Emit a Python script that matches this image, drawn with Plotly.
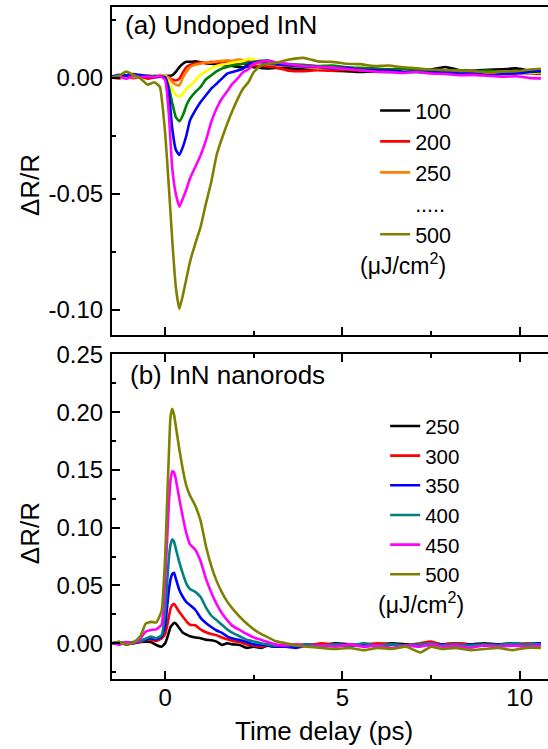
import plotly.graph_objects as go

# ---------------- data: panel (a) undoped InN ----------------
T_A = [-1.5, -1.3, -1.1, -0.9, -0.7, -0.5, -0.3, -0.15,
       0.0, 0.1, 0.2, 0.3, 0.4, 0.5, 0.6, 0.7,
       0.85, 1.0, 1.15, 1.3, 1.45, 1.6, 1.75, 1.9, 2.05, 2.2, 2.35, 2.5,
       2.7, 2.9, 3.1,
       3.5, 3.9, 4.3, 4.7, 5.1, 5.5, 5.9, 6.3, 6.7, 7.1, 7.5, 7.9, 8.3, 8.7, 9.1, 9.5, 9.9, 10.3,
       10.6]

A_100 = [0.0004, 0.0008, 0.0003, 0.0007, 0.0005, 0.0009, 0.0004, 0.0007,
         0.0006, 0.0008, 0.0010, 0.0025, 0.0045, 0.0060, 0.0068, 0.0068,
         0.0070, 0.0066, 0.0062, 0.0060, 0.0058, 0.0055, 0.0052, 0.0050, 0.0046, 0.0044, 0.0048, 0.0045,
         0.0042, 0.0040, 0.0042,
         0.0040, 0.0038, 0.0036, 0.0030, 0.0028, 0.0024, 0.0026, 0.0024, 0.0030, 0.0028, 0.0035, 0.0046, 0.0032, 0.0030, 0.0034, 0.0036, 0.0040, 0.0030,
         0.0028]
A_200 = [0.0000, -0.0003, 0.0002, -0.0002, 0.0003, -0.0004, 0.0000, 0.0004,
         0.0005, 0.0000, -0.0008, -0.0012, -0.0005, 0.0022, 0.0045, 0.0055,
         0.0060, 0.0066, 0.0062, 0.0068, 0.0065, 0.0070, 0.0066, 0.0062, 0.0058, 0.0060, 0.0055, 0.0052,
         0.0050, 0.0048, 0.0045,
         0.0030, 0.0028, 0.0032, 0.0030, 0.0034, 0.0030, 0.0032, 0.0036, 0.0031, 0.0034, 0.0030, 0.0028, 0.0032, 0.0026, 0.0022, 0.0025, 0.0020, 0.0018,
         0.0016]
A_250 = [0.0003, 0.0000, 0.0006, 0.0002, 0.0008, 0.0004, 0.0006, 0.0010,
         0.0008, 0.0000, -0.0018, -0.0030, -0.0033, 0.0000, 0.0025, 0.0045,
         0.0055, 0.0060, 0.0066, 0.0065, 0.0070, 0.0072, 0.0075, 0.0072, 0.0078, 0.0076, 0.0070, 0.0068,
         0.0062, 0.0060, 0.0055,
         0.0050, 0.0046, 0.0040, 0.0042, 0.0038, 0.0035, 0.0036, 0.0032, 0.0030, 0.0034, 0.0028, 0.0030, 0.0026, 0.0028, 0.0024, 0.0027, 0.0022, 0.0025,
         0.0023]
A_300 = [0.0000, 0.0004, -0.0003, 0.0006, 0.0002, 0.0007, 0.0003, 0.0006,
         0.0005, -0.0020, -0.0050, -0.0075, -0.0082, -0.0069, -0.0047, -0.0036,
         -0.0012, 0.0013, 0.0027, 0.0041, 0.0050, 0.0055, 0.0060, 0.0064, 0.0068, 0.0072, 0.0082, 0.0078,
         0.0070, 0.0065, 0.0060,
         0.0055, 0.0050, 0.0046, 0.0044, 0.0040, 0.0038, 0.0036, 0.0038, 0.0034, 0.0030, 0.0032, 0.0028, 0.0030, 0.0025, 0.0027, 0.0022, 0.0025, 0.0020,
         0.0022]
A_350 = [0.0005, 0.0000, 0.0010, 0.0006, 0.0012, 0.0004, 0.0008, 0.0005,
         0.0003, -0.0040, -0.0110, -0.0170, -0.0188, -0.0162, -0.0119, -0.0090,
         -0.0062, -0.0040, -0.0007, 0.0010, 0.0027, 0.0039, 0.0046, 0.0053, 0.0055, 0.0060, 0.0065, 0.0068,
         0.0072, 0.0075, 0.0065,
         0.0058, 0.0055, 0.0050, 0.0052, 0.0045, 0.0042, 0.0040, 0.0036, 0.0038, 0.0032, 0.0030, 0.0028, 0.0032, 0.0027, 0.0030, 0.0025, 0.0022, 0.0026,
         0.0024]
A_400 = [0.0005, 0.0012, 0.0008, 0.0015, 0.0010, 0.0005, 0.0002, 0.0006,
         0.0000, -0.0060, -0.0220, -0.0310, -0.0333, -0.0298, -0.0248, -0.0184,
         -0.0141, -0.0105, -0.0076, -0.0047, -0.0026, -0.0004, 0.0017, 0.0024, 0.0031, 0.0039, 0.0060, 0.0065,
         0.0068, 0.0060, 0.0058,
         0.0052, 0.0048, 0.0046, 0.0040, 0.0042, 0.0034, 0.0032, 0.0030, 0.0026, 0.0024, 0.0022, 0.0025, 0.0018, 0.0020, 0.0010, 0.0016, 0.0018, 0.0024,
         0.0030]
A_450 = [0.0000, 0.0005, -0.0005, 0.0008, 0.0003, 0.0005, 0.0002, 0.0008,
         -0.0010, -0.0150, -0.0390, -0.0500, -0.0555, -0.0520, -0.0480, -0.0434,
         -0.0384, -0.0334, -0.0270, -0.0191, -0.0133, -0.0090, -0.0059, -0.0026, -0.0002, 0.0024, 0.0036, 0.0060,
         0.0068, 0.0072, 0.0066,
         0.0058, 0.0050, 0.0047, 0.0043, 0.0038, 0.0032, 0.0026, 0.0024, 0.0020, 0.0024, 0.0018, 0.0016, 0.0010, 0.0012, 0.0008, 0.0004, 0.0006, -0.0002,
         -0.0003]
A_500 = [0.0000, 0.0008, 0.0026, 0.0012, -0.0003, -0.0030, -0.0020, -0.0040,
         -0.0240, -0.0460, -0.0700, -0.0900, -0.0995, -0.0936, -0.0864, -0.0793,
         -0.0714, -0.0642, -0.0542, -0.0449, -0.0334, -0.0262, -0.0198, -0.0141, -0.0090, -0.0047, -0.0019, 0.0024,
         0.0053, 0.0060, 0.0062,
         0.0078, 0.0085, 0.0070, 0.0068, 0.0060, 0.0058, 0.0050, 0.0052, 0.0045, 0.0040, 0.0035, 0.0032, 0.0030, 0.0028, 0.0022, 0.0026, 0.0028, 0.0035,
         0.0038]

SERIES_A = [("100", A_100, "#000000", True),
            ("200", A_200, "#ff0000", True),
            ("250", A_250, "#ff8000", True),
            ("300", A_300, "#ffff00", False),
            ("350", A_350, "#008000", False),
            ("400", A_400, "#0000ff", False),
            ("450", A_450, "#ff00ff", False),
            ("500", A_500, "#808000", True)]

# ---------------- data: panel (b) InN nanorods ----------------
T_B = [-1.5, -1.3, -1.1, -0.9, -0.7, -0.55, -0.4, -0.25, -0.1,
       0.0, 0.05, 0.1, 0.15, 0.2, 0.25, 0.3,
       0.4, 0.5, 0.6, 0.7,
       0.85, 1.0, 1.15, 1.3, 1.45, 1.6, 1.75, 1.9,
       2.1, 2.3, 2.5, 2.7, 2.9, 3.1,
       3.4, 3.7, 4.0,
       4.4, 4.8, 5.2, 5.6, 6.0, 6.4, 6.8, 7.2,
       7.5, 7.8,
       8.2, 8.6, 9.0, 9.4, 9.8, 10.2, 10.6]

B_250 = [0.000, 0.001, -0.001, 0.000, 0.001, 0.0014, 0.001, -0.0015, -0.003,
         0.000, 0.004, 0.009, 0.014, 0.016, 0.0177, 0.017,
         0.013, 0.009, 0.0075, 0.006,
         0.005, 0.0043, 0.003, 0.0025, 0.0014, -0.0015, 0.000, -0.001,
         -0.0015, -0.004, -0.003, -0.004, -0.002, -0.003,
         -0.001, -0.002, -0.001,
         -0.002, 0.000, -0.001, -0.002, -0.001, 0.000, -0.001, -0.002,
         0.000, -0.001,
         0.000, -0.001, 0.000, -0.001, 0.000, -0.001, 0.000]
B_300 = [0.000, 0.001, 0.000, 0.001, 0.001, 0.0028, 0.0028, 0.002, 0.004,
         0.008, 0.014, 0.022, 0.030, 0.033, 0.0342, 0.032,
         0.027, 0.023, 0.019, 0.016,
         0.0155, 0.012, 0.0095, 0.008, 0.007, 0.005, 0.0035, 0.002,
         0.001, -0.001, -0.002, -0.003, -0.002, -0.003,
         -0.002, -0.001, -0.002,
         0.000, -0.001, -0.002, -0.001, 0.000, -0.001, -0.002, 0.000,
         0.0015, -0.001,
         0.000, -0.001, -0.002, -0.001, -0.001, 0.000, -0.001]
B_350 = [0.000, -0.001, 0.001, 0.000, 0.002, 0.003, 0.0043, 0.0034, 0.0057,
         0.015, 0.030, 0.045, 0.055, 0.060, 0.061, 0.056,
         0.046, 0.040, 0.0356, 0.033,
         0.029, 0.022, 0.0175, 0.014, 0.011, 0.009, 0.006, 0.004,
         0.0028, 0.001, -0.001, -0.0015, -0.002, -0.003,
         -0.003, -0.004, -0.002,
         -0.003, -0.001, -0.002, -0.001, -0.003, -0.001, -0.002, -0.001,
         -0.002, -0.001,
         -0.003, -0.001, -0.002, -0.001, -0.002, -0.001, 0.000]
B_400 = [0.000, 0.001, 0.000, 0.001, 0.002, 0.004, 0.0057, 0.0043, 0.007,
         0.027, 0.050, 0.072, 0.085, 0.090, 0.088, 0.082,
         0.070, 0.060, 0.0514, 0.047,
         0.0445, 0.040, 0.031, 0.024, 0.020, 0.016, 0.012, 0.009,
         0.006, 0.003, 0.0015, 0.000, -0.001, -0.002,
         -0.001, -0.002, -0.001,
         -0.002, -0.001, -0.002, 0.000, -0.002, -0.001, -0.002, -0.001,
         0.000, -0.002,
         -0.001, -0.002, -0.001, -0.002, 0.000, -0.001, -0.001]
B_450 = [0.000, -0.001, 0.001, 0.000, 0.004, 0.010, 0.0115, 0.012, 0.016,
         0.055, 0.086, 0.118, 0.141, 0.149, 0.148, 0.142,
         0.125, 0.109, 0.095, 0.0856,
         0.081, 0.071, 0.056, 0.044, 0.034, 0.026, 0.020, 0.015,
         0.0115, 0.008, 0.005, 0.003, 0.001, -0.001,
         -0.002, -0.001, -0.003,
         -0.002, -0.003, -0.001, -0.003, -0.002, -0.004, -0.002, -0.003,
         -0.001, -0.003,
         -0.002, -0.004, -0.002, -0.003, -0.002, -0.003, -0.002]
B_500 = [0.000, 0.001, -0.001, 0.0005, 0.006, 0.017, 0.0185, 0.018, 0.028,
         0.075, 0.118, 0.160, 0.196, 0.203, 0.198, 0.188,
         0.168, 0.150, 0.136, 0.128,
         0.119, 0.106, 0.084, 0.067, 0.054, 0.044, 0.036, 0.030,
         0.023, 0.017, 0.012, 0.008, 0.005, 0.002,
         0.000, -0.002, -0.003,
         -0.004, -0.005, -0.004, -0.006, -0.004, -0.005, -0.003, -0.008,
         -0.003, -0.005,
         -0.004, -0.006, -0.005, -0.004, -0.006, -0.004, -0.004]

SERIES_B = [("250", B_250, "#000000"),
            ("300", B_300, "#ff0000"),
            ("350", B_350, "#0000ff"),
            ("400", B_400, "#008080"),
            ("450", B_450, "#ff00ff"),
            ("500", B_500, "#808000")]

# tick labels
X_TICKS = [0, 5, 10]
YA_TICKVALS = [-0.10, -0.05, 0.00]
YA_TICKTEXT = ["-0.10", "-0.05", "0.00"]
YB_TICKVALS = [0.00, 0.05, 0.10, 0.15, 0.20, 0.25]
YB_TICKTEXT = ["0.00", "0.05", "0.10", "0.15", "0.20", "0.25"]

FONT = "Liberation Sans, Arial, sans-serif"
LW = 2.6

fig = go.Figure()

rank = {"100": 1, "200": 2, "250": 3, "500": 5}
for name, vals, color, show in SERIES_A:
    fig.add_trace(go.Scatter(
        x=T_A, y=vals, mode="lines", name=name,
        line=dict(color=color, width=LW, shape="spline", smoothing=0.4),
        xaxis="x", yaxis="y", legend="legend",
        showlegend=show, legendrank=rank.get(name, 10)))
# "....." placeholder entry of the legend
fig.add_trace(go.Scatter(x=[None], y=[None], mode="lines", name=".....",
                         line=dict(color="rgba(0,0,0,0)", width=LW),
                         xaxis="x", yaxis="y", legend="legend",
                         showlegend=True, legendrank=4))

for name, vals, color in SERIES_B:
    fig.add_trace(go.Scatter(
        x=T_B, y=vals, mode="lines", name=name,
        line=dict(color=color, width=LW, shape="spline", smoothing=0.4),
        xaxis="x2", yaxis="y2", legend="legend2", showlegend=True))

axis_common = dict(showline=True, linecolor="black", linewidth=2,
                   ticks="inside", ticklen=8, tickwidth=2, tickcolor="black",
                   showgrid=False, zeroline=False, automargin=False,
                   tickfont=dict(family=FONT, size=24, color="black"))

TOP_DOM = [0.5124, 1.0]
BOT_DOM = [0.0, 0.4836]
XR = [-1.5, 10.8]
minor_common = dict(ticks="inside", ticklen=4, tickwidth=2, tickcolor="black")

fig.update_layout(
    width=548, height=749,
    margin=dict(l=112, r=0, t=7, b=70, autoexpand=False),
    paper_bgcolor="white", plot_bgcolor="white",
    font=dict(family=FONT, color="black"),
    xaxis=dict(domain=[0, 1], anchor="y", range=XR, tickmode="linear", tick0=0, dtick=5,
               showticklabels=False, mirror=True,
               minor=dict(tickmode="linear", tick0=0, dtick=2.5, **minor_common),
               **axis_common),
    xaxis2=dict(domain=[0, 1], anchor="y2", range=XR, tickmode="array", tickvals=X_TICKS,
                showticklabels=True, mirror="ticks", ticklabelstandoff=-4,
                minor=dict(tickmode="linear", tick0=0, dtick=2.5, **minor_common),
                **axis_common),
    yaxis=dict(domain=TOP_DOM, anchor="x", range=[-0.1106, 0.0304],
               tickmode="array", tickvals=YA_TICKVALS, ticktext=YA_TICKTEXT,
               ticklabelstandoff=2,
               minor=dict(tickmode="linear", tick0=0, dtick=0.025, **minor_common),
               **axis_common),
    yaxis2=dict(domain=BOT_DOM, anchor="x2", range=[-0.031, 0.2505],
                tickmode="array", tickvals=YB_TICKVALS, ticktext=YB_TICKTEXT,
                ticklabelstandoff=2,
                minor=dict(tickmode="linear", tick0=0, dtick=0.025, **minor_common),
                **axis_common),
    legend=dict(x=0.6035, y=0.8765, xanchor="left", yanchor="top",
                bgcolor="rgba(0,0,0,0)", borderwidth=0,
                font=dict(family=FONT, size=21.5, color="black"),
                traceorder="normal"),
    legend2=dict(x=0.6265, y=0.406, xanchor="left", yanchor="top",
                 bgcolor="rgba(0,0,0,0)", borderwidth=0,
                 font=dict(family=FONT, size=20.5, color="black"),
                 traceorder="normal"),
)

ann_font = dict(family=FONT, size=26, color="black")
fig.add_annotation(text="(a) Undoped InN", xref="paper", yref="paper",
                   x=0.025, y=0.973, xanchor="left", yanchor="middle",
                   showarrow=False, font=ann_font)
fig.add_annotation(text="(b) InN nanorods", xref="paper", yref="paper",
                   x=0.037, y=0.452, xanchor="left", yanchor="middle",
                   showarrow=False, font=ann_font)
fig.add_annotation(text="(μJ/cm<sup>2</sup>)", xref="paper", yref="paper",
                   x=0.564, y=0.617, xanchor="left", yanchor="middle",
                   showarrow=False, font=dict(family=FONT, size=23, color="black"))
fig.add_annotation(text="(μJ/cm<sup>2</sup>)", xref="paper", yref="paper",
                   x=0.6055, y=0.113, xanchor="left", yanchor="middle",
                   showarrow=False, font=dict(family=FONT, size=23, color="black"))
fig.add_annotation(text="ΔR/R", xref="paper", yref="paper",
                   x=-0.188, y=0.735, xanchor="center", yanchor="middle",
                   textangle=-90, showarrow=False, font=ann_font)
fig.add_annotation(text="ΔR/R", xref="paper", yref="paper",
                   x=-0.188, y=0.217, xanchor="center", yanchor="middle",
                   textangle=-90, showarrow=False, font=ann_font)
fig.add_annotation(text="Time delay (ps)", xref="paper", yref="paper",
                   x=0.486, y=-0.077, xanchor="center", yanchor="middle",
                   showarrow=False, font=ann_font)

fig.write_html("out.html")
